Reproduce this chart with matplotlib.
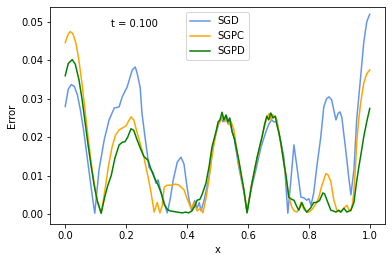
import numpy as np
import matplotlib
import matplotlib.pyplot as plt

matplotlib.use("Agg")

# --- data -----------------------------------------------------------------
sgd_x = [0.000, 0.010, 0.020, 0.030, 0.040, 0.050, 0.060, 0.070, 0.080, 0.090,
         0.097, 0.111, 0.128, 0.144, 0.161, 0.177, 0.187, 0.203, 0.220, 0.230,
         0.236, 0.246, 0.252, 0.262, 0.269, 0.275, 0.289, 0.298, 0.305, 0.315,
         0.325, 0.335, 0.345, 0.355, 0.368, 0.380, 0.390, 0.400, 0.407, 0.415,
         0.425, 0.433, 0.440, 0.446, 0.456, 0.472, 0.482, 0.495, 0.505, 0.512,
         0.518, 0.528, 0.534, 0.540, 0.548, 0.554, 0.570, 0.587, 0.597, 0.610,
         0.626, 0.643, 0.659, 0.669, 0.678, 0.685, 0.695, 0.705, 0.718, 0.725,
         0.731, 0.740, 0.751, 0.756, 0.761, 0.768, 0.774, 0.784, 0.793, 0.800,
         0.807, 0.816, 0.826, 0.839, 0.849, 0.858, 0.866, 0.875, 0.882, 0.889,
         0.896, 0.902, 0.908, 0.921, 0.931, 0.938, 0.948, 0.957, 0.970, 0.980,
         0.990, 0.997, 1.000]
sgd_err = [0.0280, 0.0325, 0.0337, 0.0332, 0.0310, 0.0270, 0.0220, 0.0160, 0.0100, 0.0040,
           0.0002, 0.0115, 0.0193, 0.0245, 0.0276, 0.0279, 0.0305, 0.0330, 0.0375, 0.0383,
           0.0367, 0.0330, 0.0263, 0.0200, 0.0159, 0.0122, 0.0107, 0.0080, 0.0089, 0.0055,
           0.0030, 0.0003, 0.0040, 0.0090, 0.0135, 0.0148, 0.0130, 0.0070, 0.0036, 0.0010,
           0.0035, 0.0015, 0.0030, 0.0008, 0.0036, 0.0096, 0.0159, 0.0210, 0.0237, 0.0250,
           0.0240, 0.0252, 0.0235, 0.0248, 0.0215, 0.0200, 0.0122, 0.0055, 0.0005, 0.0062,
           0.0115, 0.0175, 0.0214, 0.0235, 0.0245, 0.0240, 0.0240, 0.0200, 0.0148, 0.0070,
           0.0002, 0.0080, 0.0180, 0.0150, 0.0122, 0.0080, 0.0044, 0.0042, 0.0036, 0.0040,
           0.0023, 0.0055, 0.0122, 0.0200, 0.0279, 0.0300, 0.0305, 0.0297, 0.0270, 0.0245,
           0.0262, 0.0266, 0.0253, 0.0167, 0.0096, 0.0050, 0.0115, 0.0245, 0.0357, 0.0445,
           0.0500, 0.0515, 0.0520]

sgpc_x = [0.000, 0.008, 0.016, 0.025, 0.035, 0.045, 0.055, 0.065, 0.075, 0.085,
          0.095, 0.105, 0.118, 0.130, 0.142, 0.154, 0.165, 0.177, 0.190, 0.200,
          0.208, 0.216, 0.225, 0.235, 0.249, 0.258, 0.265, 0.275, 0.282, 0.292,
          0.302, 0.311, 0.318, 0.325, 0.335, 0.350, 0.362, 0.374, 0.390, 0.400,
          0.413, 0.423, 0.433, 0.445, 0.452, 0.462, 0.472, 0.482, 0.492, 0.502,
          0.512, 0.518, 0.524, 0.530, 0.538, 0.545, 0.554, 0.570, 0.587, 0.597,
          0.610, 0.626, 0.643, 0.655, 0.662, 0.670, 0.675, 0.682, 0.690, 0.695,
          0.703, 0.711, 0.720, 0.728, 0.736, 0.744, 0.752, 0.761, 0.768, 0.774,
          0.784, 0.793, 0.800, 0.808, 0.816, 0.825, 0.833, 0.841, 0.849, 0.856,
          0.862, 0.872, 0.882, 0.892, 0.903, 0.915, 0.925, 0.932, 0.938, 0.944,
          0.948, 0.953, 0.957, 0.963, 0.970, 0.980, 0.990, 1.000]
sgpc_err = [0.0446, 0.0465, 0.0475, 0.0470, 0.0445, 0.0400, 0.0340, 0.0270, 0.0200, 0.0135,
            0.0080, 0.0035, 0.0002, 0.0060, 0.0125, 0.0175, 0.0205, 0.0219, 0.0225, 0.0230,
            0.0242, 0.0253, 0.0245, 0.0215, 0.0175, 0.0150, 0.0122, 0.0085, 0.0055, 0.0005,
            0.0030, 0.0003, 0.0020, 0.0070, 0.0075, 0.0075, 0.0078, 0.0075, 0.0063, 0.0040,
            0.0015, 0.0030, 0.0008, 0.0015, 0.0003, 0.0040, 0.0090, 0.0150, 0.0200, 0.0232,
            0.0245, 0.0255, 0.0240, 0.0255, 0.0232, 0.0240, 0.0219, 0.0130, 0.0060, 0.0005,
            0.0070, 0.0130, 0.0190, 0.0230, 0.0250, 0.0262, 0.0245, 0.0258, 0.0250, 0.0245,
            0.0205, 0.0167, 0.0120, 0.0080, 0.0040, 0.0018, 0.0008, 0.0005, 0.0015, 0.0030,
            0.0012, 0.0005, 0.0005, 0.0010, 0.0018, 0.0030, 0.0044, 0.0070, 0.0089, 0.0105,
            0.0103, 0.0085, 0.0036, 0.0010, 0.0005, 0.0015, 0.0023, 0.0010, 0.0008, 0.0030,
            0.0062, 0.0120, 0.0185, 0.0240, 0.0289, 0.0340, 0.0365, 0.0375]

sgpd_x = [0.000, 0.010, 0.023, 0.033, 0.045, 0.055, 0.065, 0.075, 0.085, 0.095,
          0.105, 0.118, 0.130, 0.140, 0.151, 0.163, 0.177, 0.188, 0.196, 0.205,
          0.216, 0.225, 0.235, 0.249, 0.258, 0.265, 0.272, 0.280, 0.292, 0.305,
          0.315, 0.325, 0.335, 0.345, 0.360, 0.375, 0.385, 0.395, 0.405, 0.416,
          0.425, 0.433, 0.442, 0.449, 0.462, 0.472, 0.482, 0.495, 0.502, 0.508,
          0.515, 0.521, 0.528, 0.534, 0.540, 0.548, 0.556, 0.570, 0.587, 0.597,
          0.613, 0.630, 0.646, 0.655, 0.662, 0.668, 0.675, 0.682, 0.690, 0.695,
          0.702, 0.708, 0.718, 0.725, 0.734, 0.744, 0.751, 0.760, 0.767, 0.777,
          0.785, 0.793, 0.805, 0.816, 0.825, 0.835, 0.846, 0.852, 0.860, 0.872,
          0.880, 0.889, 0.898, 0.905, 0.915, 0.925, 0.938, 0.948, 0.956, 0.964,
          0.972, 0.980, 0.990, 1.000]
sgpd_err = [0.0360, 0.0392, 0.0402, 0.0390, 0.0350, 0.0300, 0.0240, 0.0180, 0.0125, 0.0075,
            0.0035, 0.0002, 0.0045, 0.0075, 0.0100, 0.0145, 0.0180, 0.0187, 0.0188, 0.0200,
            0.0222, 0.0218, 0.0195, 0.0167, 0.0150, 0.0145, 0.0140, 0.0120, 0.0096, 0.0075,
            0.0055, 0.0025, 0.0012, 0.0008, 0.0006, 0.0004, 0.0003, 0.0005, 0.0003, 0.0008,
            0.0020, 0.0036, 0.0038, 0.0050, 0.0080, 0.0122, 0.0175, 0.0214, 0.0240, 0.0245,
            0.0265, 0.0245, 0.0258, 0.0240, 0.0250, 0.0214, 0.0195, 0.0140, 0.0062, 0.0003,
            0.0080, 0.0148, 0.0200, 0.0235, 0.0255, 0.0245, 0.0263, 0.0250, 0.0255, 0.0232,
            0.0210, 0.0185, 0.0133, 0.0100, 0.0044, 0.0038, 0.0036, 0.0020, 0.0010, 0.0030,
            0.0015, 0.0005, 0.0015, 0.0030, 0.0030, 0.0035, 0.0055, 0.0052, 0.0035, 0.0010,
            0.0008, 0.0005, 0.0010, 0.0005, 0.0015, 0.0005, 0.0010, 0.0030, 0.0080, 0.0122,
            0.0160, 0.0200, 0.0240, 0.0275]

t_label = "t = 0.100"

# --- plot -----------------------------------------------------------------
fig = plt.figure(figsize=(392 / 72, 262 / 72), dpi=72)
ax = fig.add_axes([50 / 392, 38 / 262, 335 / 392, 217 / 262])

ax.plot(np.array(sgd_x), np.array(sgd_err), color="cornflowerblue", label="SGD")
ax.plot(np.array(sgpc_x), np.array(sgpc_err), color="orange", label="SGPC")
ax.plot(np.array(sgpd_x), np.array(sgpd_err), color="green", label="SGPD")

ax.set_xlim(-0.05, 1.05)
ax.set_ylim(-0.0026, 0.0539)
ax.set_xlabel("x")
ax.set_ylabel("Error")
ax.text(0.182, 0.906, t_label, transform=ax.transAxes)
ax.legend(loc="upper center")

fig.savefig("out.png", dpi=72)
plt.close(fig)
